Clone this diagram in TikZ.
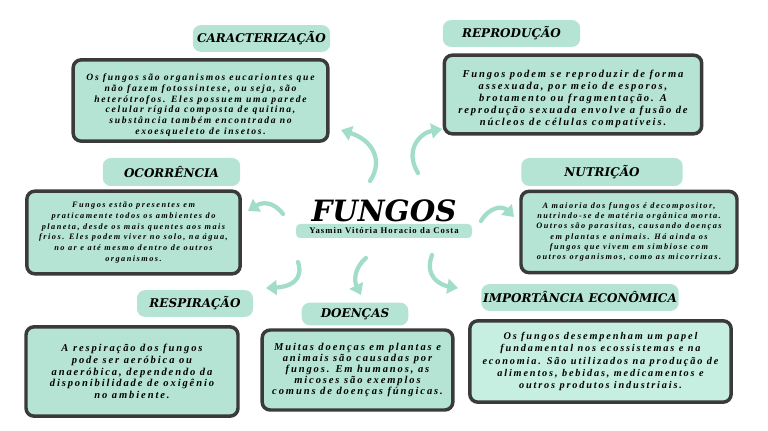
\documentclass[tikz,border=0pt]{standalone}
\usepackage{fontspec}
\setmainfont{Liberation Serif}
\newfontfamily\bodyfont[LetterSpace=18]{Liberation Serif}
\newfontfamily\namefont[LetterSpace=12]{Liberation Serif}
\newfontfamily\headfont{DejaVu Serif}
\usepackage{xcolor}
\usetikzlibrary{arrows.meta}
\definecolor{mint}{HTML}{B5E4D4}
\definecolor{mintlight}{HTML}{C6EFE2}
\definecolor{mintarrow}{HTML}{A2DDCB}
\definecolor{edgegray}{HTML}{3A3A3A}

\begin{document}
\begin{tikzpicture}[x=0.75pt, y=-0.75pt]
                \tikzstyle{infobox} = [rectangle, rounded corners=6pt, draw=edgegray, line width=2.6pt, fill=mint, align=center, inner sep=0pt]
                \tikzstyle{tagbox} = [rectangle, rounded corners=6pt, fill=mint, text centered, inner sep=0pt, font=\headfont\bfseries\itshape\fontsize{9}{10}\selectfont]
                \tikzstyle{curl} = [draw=mintarrow, line width=3.2pt, line cap=round, -{Triangle[width=11pt,length=8pt]}]

                \useasboundingbox (0,0) rectangle (768,431);

                % centre
                \node (title) [font=\headfont\bfseries\itshape\fontsize{22}{24}\selectfont] at (384,211) {FUNGOS};
                \node (author) [rectangle, rounded corners=3pt, fill=mint, minimum width=132pt, minimum height=10.5pt, inner sep=0pt, font=\namefont\bfseries\fontsize{6.5}{7}\selectfont] at (384,231) {Yasmin Vitória Horacio da Costa};

                % texts
                \node (carac) [infobox, minimum width=191pt, minimum height=61pt, font=\bodyfont\bfseries\itshape\fontsize{7.2}{8.2}\selectfont] at (200.5,100.5) {\rule{0pt}{12pt}Os fungos são organismos eucariontes que\\ não fazem fotossintese, ou seja, são\\ heterótrofos. Eles possuem uma parede\\ celular rígida composta de quitina,\\ substância também encontrada no\\ exoesqueleto de insetos.};
                \node (repro) [infobox, minimum width=193pt, minimum height=59pt, font=\bodyfont\bfseries\itshape\fontsize{7.9}{8.9}\selectfont] at (573,94.5) {\rule{0pt}{12pt}Fungos podem se reproduzir de forma\\ assexuada, por meio de esporos,\\ brotamento ou fragmentação. A\\ reprodução sexuada envolve a fusão de\\ núcleos de células compatíveis.};
                \node (ocorr) [infobox, minimum width=160pt, minimum height=62pt, font=\bodyfont\bfseries\itshape\fontsize{6.2}{8}\selectfont] at (133.5,232.5) {Fungos estão presentes em\\ praticamente todos os ambientes do\\ planeta, desde os mais quentes aos mais\\ frios. Eles podem viver no solo, na água,\\ no ar e até mesmo dentro de outros\\ organismos.};
                \node (nutri) [infobox, minimum width=162pt, minimum height=61pt, font=\bodyfont\bfseries\itshape\fontsize{6.2}{7.75}\selectfont] at (629,232) {A maioria dos fungos é decompositor,\\ nutrindo-se de matéria orgânica morta.\\ Outros são parasitas, causando doenças\\ em plantas e animais. Há ainda os\\ fungos que vivem em simbiose com\\ outros organismos, como as micorrizas.};
                \node (respi) [infobox, minimum width=159pt, minimum height=67pt, font=\bodyfont\bfseries\itshape\fontsize{7.9}{8.8}\selectfont] at (132,371.5) {A respiração dos fungos\\ pode ser aeróbica ou\\ anaeróbica, dependendo da\\ disponibilidade de oxigênio\\ no ambiente.};
                \node (doenca) [infobox, minimum width=143pt, minimum height=60pt, font=\bodyfont\bfseries\itshape\fontsize{7.9}{8.4}\selectfont] at (357.5,370) {Muitas doenças em plantas e\\ animais são causadas por\\ fungos. Em humanos, as\\ micoses são exemplos\\ comuns de doenças fúngicas.};
                \node (econ) [infobox, fill=mintlight, minimum width=196pt, minimum height=61pt, font=\bodyfont\bfseries\itshape\fontsize{7.7}{9.1}\selectfont] at (600.5,361.5) {Os fungos desempenham um papel\\ fundamental nos ecossistemas e na\\ economia. São utilizados na produção de\\ alimentos, bebidas, medicamentos e\\ outros produtos industriais.};

                % headings
                \node (caracTag) [tagbox, minimum width=103pt, minimum height=20pt] at (261.5,38.5) {CARACTERIZAÇÃO};
                \node (reproTag) [tagbox, minimum width=103pt, minimum height=20pt] at (511.5,33.5) {REPRODUÇÃO};
                \node (ocorrTag) [tagbox, minimum width=103pt, minimum height=21pt] at (171.5,172) {OCORRÊNCIA};
                \node (nutriTag) [tagbox, minimum width=121pt, minimum height=21pt] at (602,172) {NUTRIÇÃO};
                \node (respiTag) [tagbox, minimum width=87pt, minimum height=20pt] at (195,303.5) {RESPIRAÇÃO};
                \node (doencaTag) [tagbox, minimum width=80pt, minimum height=17pt] at (355,314) {DOENÇAS};
                \node (econTag) [tagbox, minimum width=148pt, minimum height=20pt] at (580,297.5) {IMPORTÂNCIA ECONÔMICA};

                % arrows
                \coordinate (ulFrom) at (370,181);
                \coordinate (ulTo) at (341,130);
                \coordinate (urFrom) at (418,173);
                \coordinate (urTo) at (442,129);
                \coordinate (lFrom) at (283,214);
                \coordinate (lTo) at (248,211);
                \coordinate (rFrom) at (481,221);
                \coordinate (rTo) at (514,217);
                \coordinate (dlFrom) at (298,262);
                \coordinate (dlTo) at (266,288);
                \coordinate (dmFrom) at (366,258);
                \coordinate (dmTo) at (361,295);
                \coordinate (drFrom) at (432,255);
                \coordinate (drTo) at (458,288);

                \draw [curl] (ulFrom) .. controls (384,160) and (372,140) .. (ulTo);
                \draw [curl] (urFrom) .. controls (404,150) and (420,133) .. (urTo);
                \draw [curl] (lFrom) .. controls (273,201) and (262,202) .. (lTo);
                \draw [curl] (rFrom) .. controls (490,206) and (503,206) .. (rTo);
                \draw [curl] (dlFrom) .. controls (304,280) and (290,287) .. (dlTo);
                \draw [curl] (dmFrom) .. controls (354,268) and (354,281) .. (dmTo);
                \draw [curl] (drFrom) .. controls (424,276) and (440,285) .. (drTo);
            \end{tikzpicture}
\end{document}
